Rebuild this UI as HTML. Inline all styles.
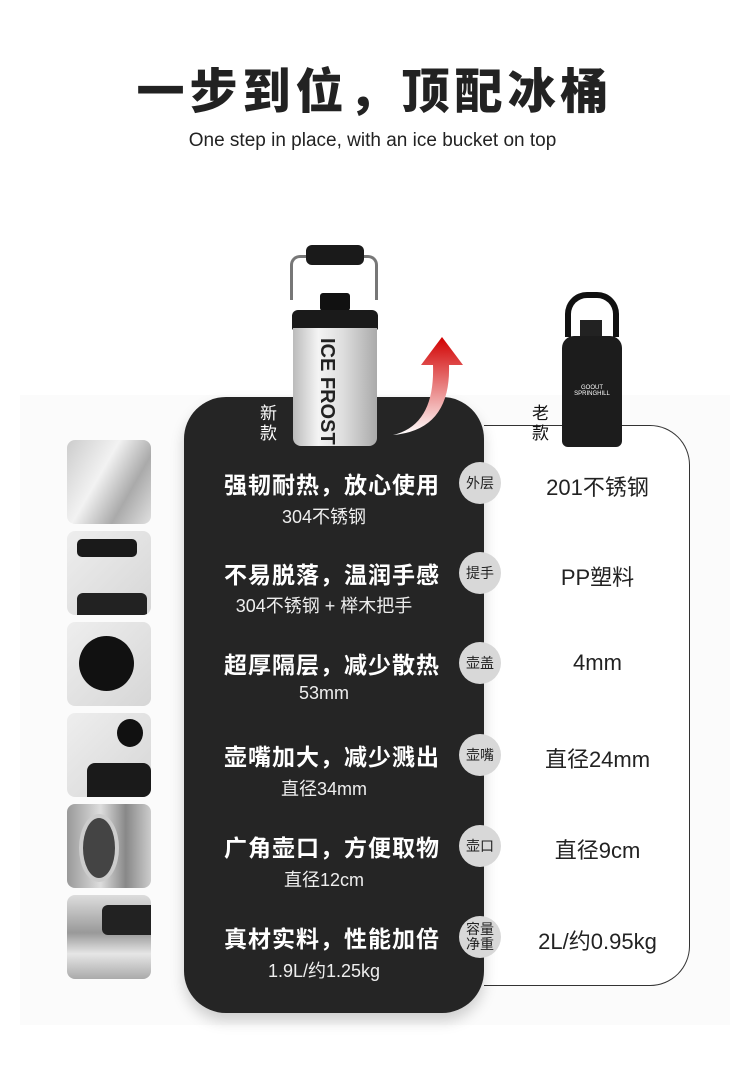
<!DOCTYPE html>
<html><head><meta charset="utf-8"><style>
*{margin:0;padding:0;box-sizing:border-box}
body{width:750px;height:1073px;background:#fff;position:relative;overflow:hidden;font-family:"Liberation Sans","Noto Sans CJK SC",sans-serif}
.a{position:absolute}
.bg{left:20px;top:395px;width:710px;height:630px;background:#fbfbfb}
.dark{left:184px;top:397px;width:300px;height:616px;background:#252525;border-radius:42px;box-shadow:0 8px 14px rgba(0,0,0,.18)}
.white{left:484px;top:425px;width:206px;height:561px;background:#fff;border:1.5px solid #333;border-left:none;border-radius:0 40px 40px 0}
.t{left:184px;width:296px;text-align:center;color:#fff;font-weight:bold;font-size:23px;letter-spacing:1px;font-family:"Noto Sans CJK SC",sans-serif;line-height:30px}
.s{left:184px;width:280px;text-align:center;color:#eee;font-size:18px;font-family:"Liberation Sans","Noto Sans CJK SC",sans-serif}
.c{left:459px;width:42px;height:42px;border-radius:50%;background:#d8d8d8;color:#222;font-size:14px;display:flex;align-items:center;justify-content:center;line-height:15px;text-align:center;font-family:"Noto Sans CJK SC",sans-serif}
.v{left:500px;width:195px;text-align:center;color:#222;font-size:22px;font-family:"Liberation Sans","Noto Sans CJK SC",sans-serif}
.th{left:67px;width:84px;height:84px;border-radius:8px;background:linear-gradient(135deg,#eee,#d6d6d6);overflow:hidden}
</style></head><body>
<div class="a" style="left:0;top:52px;width:750px;text-align:center;font-size:48px;font-weight:900;color:#222;letter-spacing:5px;font-family:'Noto Sans CJK SC',sans-serif">一步到位，顶配冰桶</div>
<div class="a" style="left:0;top:130px;width:745px;text-align:center;font-size:19px;color:#222">One step in place, with an ice bucket on top</div>
<div class="a bg"></div>
<div class="a white"></div>
<div class="a dark"></div>
<!-- new bottle -->
<div class="a" style="left:290px;top:255px;width:88px;height:45px;border:3px solid #777;border-bottom:none;border-radius:10px 10px 0 0"></div>
<div class="a" style="left:306px;top:245px;width:58px;height:20px;background:#1a1a1a;border-radius:6px"></div>
<div class="a" style="left:320px;top:293px;width:30px;height:18px;background:#111;border-radius:3px"></div>
<div class="a" style="left:292px;top:310px;width:86px;height:20px;background:#1a1a1a;border-radius:6px 6px 2px 2px"></div>
<div class="a" style="left:293px;top:328px;width:84px;height:118px;background:linear-gradient(90deg,#bbb,#f4f4f4 30%,#ddd 60%,#aaa);border-radius:0 0 8px 8px;overflow:hidden"><div class="a" style="left:22px;top:10px;writing-mode:vertical-rl;font-weight:900;font-size:20px;color:#222;font-family:'Liberation Sans',sans-serif">ICE FROST</div></div>
<!-- arrow -->
<svg class="a" style="left:385px;top:335px" width="80" height="105"><path d="M8 100 Q50 90 48 30 L36 30 L57 2 L78 30 L64 30 Q66 95 8 100Z" fill="url(#g)"/><defs><linearGradient id="g" x1="0" y1="1" x2="0" y2="0"><stop offset="0" stop-color="#fff"/><stop offset="1" stop-color="#d10000"/></linearGradient></defs></svg>
<div class="a" style="left:260px;top:402px;color:#fff;font-size:17px;line-height:20px;font-family:'Noto Sans CJK SC',sans-serif">新<br>款</div>
<!-- old bottle -->
<div class="a" style="left:565px;top:292px;width:54px;height:45px;border:6px solid #111;border-bottom:none;border-radius:22px 22px 0 0"></div>
<div class="a" style="left:580px;top:320px;width:22px;height:20px;background:#222"></div>
<div class="a" style="left:562px;top:336px;width:60px;height:111px;background:#1c1c1c;border-radius:12px 12px 6px 6px"></div>
<div class="a" style="left:572px;top:385px;width:40px;color:#fff;font-size:6px;text-align:center">GOOUT SPRINGHILL</div>
<div class="a" style="left:532px;top:402px;color:#111;font-size:17px;line-height:20px;font-family:'Noto Sans CJK SC',sans-serif">老<br>款</div>

<div class="a t" style="top:468px">强韧耐热，放心使用</div><div class="a s" style="top:503px">304不锈钢</div>
<div class="a t" style="top:558px">不易脱落，温润手感</div><div class="a s" style="top:592px">304不锈钢 + 榉木把手</div>
<div class="a t" style="top:648px">超厚隔层，减少散热</div><div class="a s" style="top:683px">53mm</div>
<div class="a t" style="top:740px">壶嘴加大，减少溅出</div><div class="a s" style="top:775px">直径34mm</div>
<div class="a t" style="top:831px">广角壶口，方便取物</div><div class="a s" style="top:866px">直径12cm</div>
<div class="a t" style="top:922px">真材实料，性能加倍</div><div class="a s" style="top:957px">1.9L/约1.25kg</div>

<div class="a c" style="top:462px">外层</div>
<div class="a c" style="top:552px">提手</div>
<div class="a c" style="top:642px">壶盖</div>
<div class="a c" style="top:734px">壶嘴</div>
<div class="a c" style="top:825px">壶口</div>
<div class="a c" style="top:916px">容量<br>净重</div>

<div class="a v" style="top:470px">201不锈钢</div>
<div class="a v" style="top:560px">PP塑料</div>
<div class="a v" style="top:650px">4mm</div>
<div class="a v" style="top:742px">直径24mm</div>
<div class="a v" style="top:833px">直径9cm</div>
<div class="a v" style="top:924px">2L/约0.95kg</div>

<div class="a th" style="top:440px;background:linear-gradient(120deg,#ccc,#f2f2f2 40%,#aaa 70%,#e0e0e0)"></div>
<div class="a th" style="top:531px"><div class="a" style="left:10px;top:8px;width:60px;height:18px;background:#1a1a1a;border-radius:5px"></div><div class="a" style="left:10px;top:62px;width:70px;height:22px;background:#222;border-radius:6px 6px 0 0"></div></div>
<div class="a th" style="top:622px"><div class="a" style="left:12px;top:14px;width:55px;height:55px;background:#111;border-radius:50%"></div></div>
<div class="a th" style="top:713px"><div class="a" style="left:50px;top:6px;width:26px;height:28px;background:#111;border-radius:50%"></div><div class="a" style="left:20px;top:50px;width:64px;height:34px;background:#1a1a1a;border-radius:8px 8px 0 0"></div></div>
<div class="a th" style="top:804px;background:linear-gradient(90deg,#999,#ddd 40%,#888 70%,#ccc)"><div class="a" style="left:12px;top:10px;width:40px;height:68px;background:#444;border-radius:50%;border:4px solid #ccc"></div></div>
<div class="a th" style="top:895px;background:linear-gradient(180deg,#ddd,#999 45%,#e6e6e6 70%,#aaa)"><div class="a" style="left:35px;top:10px;width:49px;height:30px;background:#222;border-radius:6px 0 0 6px"></div></div>
</body></html>
